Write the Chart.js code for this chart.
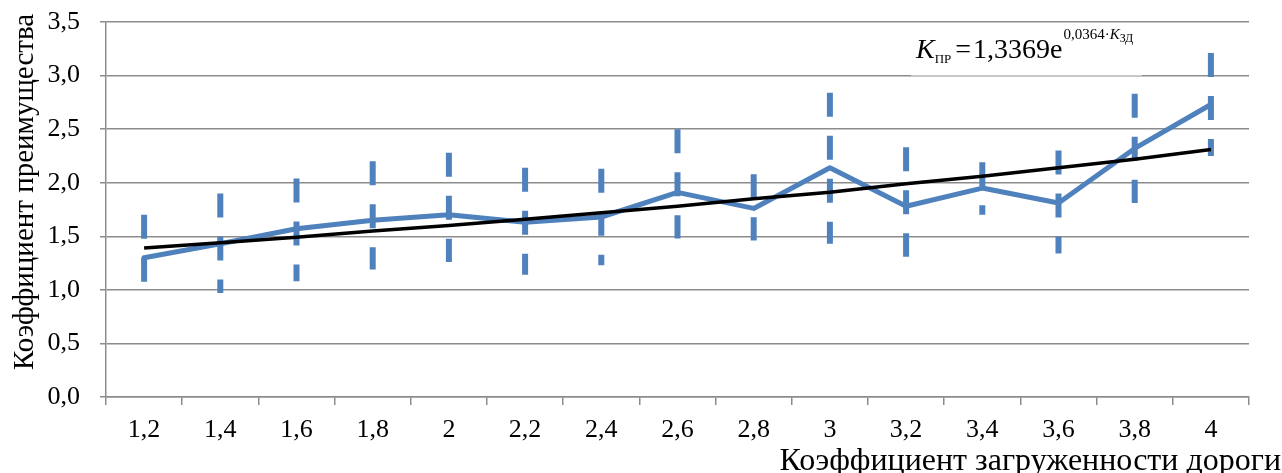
<!DOCTYPE html>
<html>
<head>
<meta charset="utf-8">
<script src="https://cdn.jsdelivr.net/npm/chart.js@4.4.0/dist/chart.umd.min.js"></script>
<style>
  html, body { margin: 0; padding: 0; background: #fff; }
  #wrap { width: 1282px; height: 473px; }
</style>
</head>
<body>
<div id="wrap"><canvas id="chart" width="1282" height="473"></canvas></div>
<script>
// x categories (коэффициент загруженности)
const labels = ['1,2', '1,4', '1,6', '1,8', '2', '2,2', '2,4', '2,6', '2,8', '3', '3,2', '3,4', '3,6', '3,8', '4'];

// measured values
const advantage = [1.30, 1.43, 1.57, 1.65, 1.70, 1.63, 1.68, 1.91, 1.76, 2.14, 1.78, 1.95, 1.81, 2.32, 2.73];
// error bar ends
const errHigh = [1.70, 1.90, 2.04, 2.20, 2.28, 2.14, 2.13, 2.50, 2.08, 2.84, 2.33, 2.19, 2.30, 2.83, 3.21];
const errLow  = [1.07, 0.97, 1.08, 1.19, 1.26, 1.14, 1.23, 1.48, 1.46, 1.43, 1.31, 1.70, 1.34, 1.81, 2.25];

// exponential trend line
const trend = [1.39, 1.44, 1.49, 1.55, 1.60, 1.66, 1.72, 1.78, 1.85, 1.91, 1.99, 2.06, 2.14, 2.22, 2.31];

const yTicks = [0, 0.5, 1, 1.5, 2, 2.5, 3, 3.5];

const blue = '#4F81BD';
const gridGray = '#8c8c8c';
const serif = '"Liberation Serif", "Times New Roman", serif';

// dashed error bars + titles + equation
const extras = {
  id: 'extras',
  beforeDatasetsDraw(chart) {
    const ctx = chart.ctx;
    const x = chart.scales.x, y = chart.scales.y;
    ctx.save();
    ctx.strokeStyle = blue;
    ctx.lineWidth = 6;
    ctx.setLineDash([24, 19]);
    for (let i = 0; i < labels.length; i++) {
      const px = x.getPixelForValue(i);
      ctx.beginPath();
      ctx.moveTo(px, y.getPixelForValue(errHigh[i]));
      ctx.lineTo(px, y.getPixelForValue(errLow[i]));
      ctx.stroke();
    }
    ctx.restore();
  },
  afterDraw(chart) {
    const ctx = chart.ctx;
    ctx.save();
    ctx.fillStyle = '#000';

    // axis titles
    ctx.font = '32px ' + serif;
    ctx.textAlign = 'right';
    ctx.textBaseline = 'alphabetic';
    ctx.fillText('Коэффициент загруженности дороги', 1281, 470);

    ctx.save();
    ctx.translate(33, 192);
    ctx.rotate(-Math.PI / 2);
    ctx.textAlign = 'center';
    ctx.font = '29px ' + serif;
    ctx.fillText('Коэффициент преимущества', 0, 0);
    ctx.restore();

    // equation box
    ctx.fillStyle = '#fff';
    ctx.fillRect(911, 24, 231, 50);
    ctx.strokeStyle = '#c8c8c8';
    ctx.lineWidth = 1;
    ctx.beginPath();
    ctx.moveTo(911, 75.5);
    ctx.lineTo(1142, 75.5);
    ctx.stroke();

    ctx.fillStyle = '#000';
    ctx.textAlign = 'left';
    let cx = 916;
    ctx.font = 'italic 28px ' + serif;
    ctx.fillText('K', cx, 58);
    cx += ctx.measureText('K').width;
    ctx.font = '13px ' + serif;
    ctx.fillText('ПР', cx, 63);
    cx += ctx.measureText('ПР').width + 4;
    ctx.font = '28px ' + serif;
    ctx.fillText('=', cx, 58);
    cx += ctx.measureText('=').width + 2;
    ctx.fillText('1,3369e', cx, 58);
    cx += ctx.measureText('1,3369e').width + 1;
    ctx.font = '15px ' + serif;
    ctx.fillText('0,0364·', cx, 39);
    cx += ctx.measureText('0,0364·').width;
    ctx.font = 'italic 15px ' + serif;
    ctx.fillText('K', cx, 39);
    cx += ctx.measureText('K').width;
    ctx.font = '12px ' + serif;
    ctx.fillText('ЗД', cx, 42);
    ctx.restore();
  }
};

new Chart(document.getElementById('chart'), {
  type: 'line',
  data: {
    labels: labels,
    datasets: [
      {
        label: 'trend',
        data: trend,
        borderColor: '#000',
        borderWidth: 3.5,
        pointRadius: 0,
        tension: 0,
        order: 0
      },
      {
        label: 'Кпр',
        data: advantage,
        borderColor: blue,
        borderWidth: 5,
        borderCapStyle: 'round',
        borderJoinStyle: 'round',
        pointRadius: 0,
        tension: 0,
        order: 1
      }
    ]
  },
  options: {
    responsive: false,
    animation: false,
    devicePixelRatio: 1,
    layout: { padding: { left: 0, right: 33, top: 22, bottom: 0 } },
    plugins: {
      legend: { display: false },
      tooltip: { enabled: false }
    },
    scales: {
      x: {
        offset: true,
        afterFit(scale) {
          scale.height = 76;
          scale.paddingLeft = 0;
          scale.paddingRight = 0;
        },
        grid: {
          offset: true,
          drawOnChartArea: false,
          drawTicks: true,
          tickLength: 8,
          color: gridGray,
          lineWidth: 1.5
        },
        border: { color: gridGray, width: 1.5 },
        ticks: {
          color: '#000',
          font: { family: serif, size: 26 },
          padding: 10,
          maxRotation: 0,
          autoSkip: false
        }
      },
      y: {
        min: 0,
        max: 3.5,
        afterFit(scale) {
          scale.width = 106;
          scale.paddingTop = 0;
          scale.paddingBottom = 0;
        },
        afterBuildTicks(scale) { scale.ticks = yTicks.map(v => ({ value: v })); },
        grid: {
          color: gridGray,
          lineWidth: 1.5,
          tickLength: 6
        },
        border: { color: gridGray, width: 1.5 },
        ticks: {
          color: '#000',
          font: { family: serif, size: 26 },
          padding: 20,
          callback: v => v.toFixed(1).replace('.', ',')
        }
      }
    }
  },
  plugins: [extras]
});
</script>
</body>
</html>
